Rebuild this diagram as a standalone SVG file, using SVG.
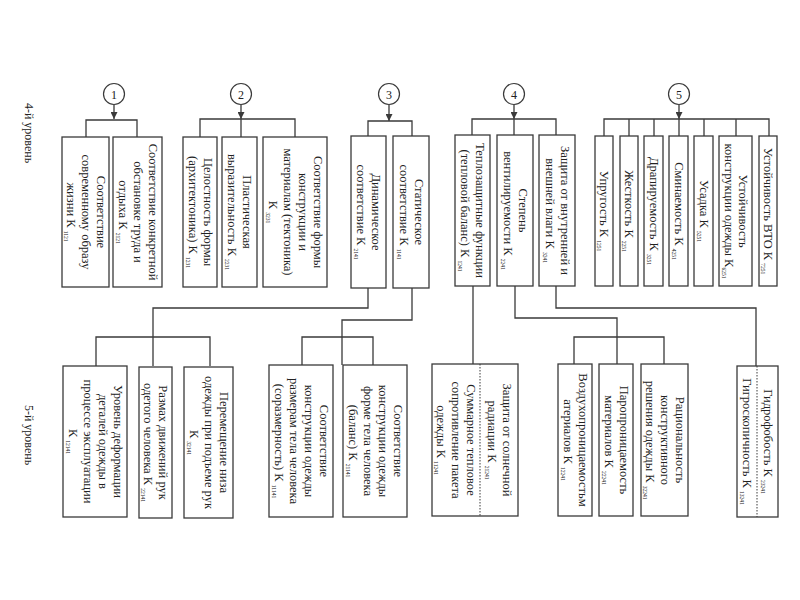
<svg xmlns="http://www.w3.org/2000/svg" width="800" height="600" viewBox="0 0 800 600">
<style>
.b{fill:#fff;stroke:#3a3a3a;stroke-width:1.3}
.c{fill:#fff;stroke:#3a3a3a;stroke-width:1.2}
.l{fill:none;stroke:#3a3a3a;stroke-width:1.3}
.d{fill:none;stroke:#3a3a3a;stroke-width:1;stroke-dasharray:1.5 1.5}
text{font-family:"Liberation Serif","Times New Roman",serif;font-size:12.5px;fill:#222;text-anchor:middle}
.s{font-size:5.5px}
.n{font-size:12px}
</style>
<defs>
<marker id="ar" viewBox="0 0 8 8" refX="8" refY="4" markerWidth="7" markerHeight="7" orient="auto" markerUnits="userSpaceOnUse">
<path d="M0,0 L8,4 L0,8 Z" fill="#3a3a3a"/>
</marker>
</defs>
<rect width="800" height="600" fill="#fff"/>

<text transform="translate(29,133) rotate(90)" y="4" class="n">4-й уровень</text>
<text transform="translate(29,435) rotate(90)" y="4" class="n">5-й уровень</text>

<g id="connectors">
<line class="l" x1="114" y1="105" x2="114" y2="119" marker-end="url(#ar)"/>
<path class="l" d="M86,137 V120 H137 V137"/>
<line class="l" x1="241" y1="105" x2="241" y2="119" marker-end="url(#ar)"/>
<path class="l" d="M200,137 V119 H295 V137 M241,119 V137"/>
<line class="l" x1="389" y1="105" x2="389" y2="121" marker-end="url(#ar)"/>
<path class="l" d="M368,136 V121 H412 V136"/>
<line class="l" x1="514" y1="105" x2="514" y2="119" marker-end="url(#ar)"/>
<path class="l" d="M472,135 V119 H556 V135 M514,119 V135"/>
<line class="l" x1="679" y1="105" x2="679" y2="119" marker-end="url(#ar)"/>
<path class="l" d="M604,136 V119 H769 V136 M629,119 V136 M654,119 V136 M679,119 V136 M704,119 V136 M736,119 V136"/>
<path class="l" d="M368,288 V308 H153 V337 M96,366 V337 H210 V366 M153,337 V366"/>
<path class="l" d="M412,288 V320 H342 V337 M302,365 V337 H373 V365 M342,337 V365"/>
<path class="l" d="M473,286 V364"/>
<path class="l" d="M515,286 V318 H617 V337 M574,364 V337 H664 V364 M617,337 V364"/>
<path class="l" d="M556,286 V308 H756 V366"/>
</g>

<g id="c1"><circle class="c" cx="114" cy="94" r="10.5"/><text x="114" y="98.5" class="n">1</text></g>
<g id="c2"><circle class="c" cx="241" cy="94" r="10.5"/><text x="241" y="98.5" class="n">2</text></g>
<g id="c3"><circle class="c" cx="389" cy="94" r="10.5"/><text x="389" y="98.5" class="n">3</text></g>
<g id="c4"><circle class="c" cx="514" cy="94" r="10.5"/><text x="514" y="98.5" class="n">4</text></g>
<g id="c5"><circle class="c" cx="679" cy="94" r="10.5"/><text x="679" y="98.5" class="n">5</text></g>

<!-- Level 4 group 1 -->
<g id="k1121"><rect class="b" x="62" y="137" width="47" height="150"/>
<text transform="translate(85.5,212) rotate(90)"><tspan x="0" y="-11">Соответствие</tspan><tspan x="0" y="4">современному образу</tspan><tspan x="0" y="19">жизни К <tspan class="s" dy="3">1121</tspan></tspan></text></g>
<g id="k2121"><rect class="b" x="113" y="137" width="49" height="150"/>
<text transform="translate(137.5,212) rotate(90)"><tspan x="0" y="-11">Соответствие конкретной</tspan><tspan x="0" y="4">обстановке труда и</tspan><tspan x="0" y="19">отдыха К <tspan class="s" dy="3">2121</tspan></tspan></text></g>

<!-- group 2 -->
<g id="k1231"><rect class="b" x="183" y="137" width="34" height="150"/>
<text transform="translate(200,212) rotate(90)"><tspan x="0" y="-3.5">Целостность формы</tspan><tspan x="0" y="11.5">(архитектоника) К <tspan class="s" dy="3">1231</tspan></tspan></text></g>
<g id="k2231"><rect class="b" x="222" y="137" width="35" height="150"/>
<text transform="translate(239.5,212) rotate(90)"><tspan x="0" y="-3.5">Пластическая</tspan><tspan x="0" y="11.5">выразительность К <tspan class="s" dy="3">2231</tspan></tspan></text></g>
<g id="k3231"><rect class="b" x="263" y="137" width="64" height="150"/>
<text transform="translate(295,212) rotate(90)"><tspan x="0" y="-18.5">Соответствие формы</tspan><tspan x="0" y="-3.5">конструкции и</tspan><tspan x="0" y="11.5">материалам (тектоника)</tspan><tspan x="0" y="26.5">К <tspan class="s" dy="3">3231</tspan></tspan></text></g>

<!-- group 3 -->
<g id="k2141"><rect class="b" x="351" y="136" width="35" height="152"/>
<text transform="translate(368.5,212) rotate(90)"><tspan x="0" y="-3.5">Динамическое</tspan><tspan x="0" y="11.5">соответствие К <tspan class="s" dy="3">2141</tspan></tspan></text></g>
<g id="k1141"><rect class="b" x="393" y="136" width="36" height="152"/>
<text transform="translate(411,212) rotate(90)"><tspan x="0" y="-3.5">Статическое</tspan><tspan x="0" y="11.5">соответствие К <tspan class="s" dy="3">1141</tspan></tspan></text></g>

<!-- group 4 -->
<g id="k1241"><rect class="b" x="455" y="135" width="35" height="151"/>
<text transform="translate(472.5,210.5) rotate(90)"><tspan x="0" y="-3.5">Теплозащитные функции</tspan><tspan x="0" y="11.5">(тепловой баланс) К <tspan class="s" dy="3">1241</tspan></tspan></text></g>
<g id="k2241"><rect class="b" x="497" y="135" width="36" height="151"/>
<text transform="translate(515,210.5) rotate(90)"><tspan x="0" y="-3.5">Степень</tspan><tspan x="0" y="11.5">вентилируемости К <tspan class="s" dy="3">2241</tspan></tspan></text></g>
<g id="k3241"><rect class="b" x="539" y="135" width="36" height="151"/>
<text transform="translate(557,210.5) rotate(90)"><tspan x="0" y="-3.5">Защита от внутренней и</tspan><tspan x="0" y="11.5">внешней влаги К <tspan class="s" dy="3">3241</tspan></tspan></text></g>

<!-- group 5 -->
<g id="k1251"><rect class="b" x="595" y="136" width="18" height="150"/>
<text transform="translate(604,211) rotate(90)"><tspan x="0" y="4">Упругость К <tspan class="s" dy="3">1251</tspan></tspan></text></g>
<g id="k2251"><rect class="b" x="620" y="136" width="18" height="150"/>
<text transform="translate(629,211) rotate(90)"><tspan x="0" y="4">Жесткость К <tspan class="s" dy="3">2251</tspan></tspan></text></g>
<g id="k3251"><rect class="b" x="644" y="136" width="19" height="150"/>
<text transform="translate(653.5,211) rotate(90)"><tspan x="0" y="4">Драпируемость К <tspan class="s" dy="3">3251</tspan></tspan></text></g>
<g id="k4251"><rect class="b" x="669" y="136" width="19" height="150"/>
<text transform="translate(678.5,211) rotate(90)"><tspan x="0" y="4">Сминаемость К <tspan class="s" dy="3">4251</tspan></tspan></text></g>
<g id="k5251"><rect class="b" x="694" y="136" width="19" height="150"/>
<text transform="translate(703.5,211) rotate(90)"><tspan x="0" y="4">Усадка К <tspan class="s" dy="3">5251</tspan></tspan></text></g>
<g id="k6251"><rect class="b" x="719" y="136" width="33" height="150"/>
<text transform="translate(735.5,211) rotate(90)"><tspan x="0" y="-3">Устойчивость</tspan><tspan x="0" y="11">конструкции одежды К<tspan class="s" dy="3">6251</tspan></tspan></text></g>
<g id="k7251"><rect class="b" x="759" y="136" width="18" height="150"/>
<text transform="translate(768,211) rotate(90)"><tspan x="0" y="4">Устойчивость ВТО К <tspan class="s" dy="3">7251</tspan></tspan></text></g>

<!-- Level 5 -->
<g id="k12141"><rect class="b" x="63" y="366" width="64" height="151"/>
<text transform="translate(95,441.5) rotate(90)"><tspan x="0" y="-18.5">Уровень деформации</tspan><tspan x="0" y="-3.5">деталей одежды в</tspan><tspan x="0" y="11.5">процессе эксплуатации</tspan><tspan x="0" y="26.5">К <tspan class="s" dy="3">12141</tspan></tspan></text></g>
<g id="k22141"><rect class="b" x="139" y="367" width="33" height="151"/>
<text transform="translate(155.5,442.5) rotate(90)"><tspan x="0" y="-3.5">Размах движений рук</tspan><tspan x="0" y="11.5">одетого человека К <tspan class="s" dy="3">22141</tspan></tspan></text></g>
<g id="k32141"><rect class="b" x="184" y="367" width="49" height="151"/>
<text transform="translate(208.5,442.5) rotate(90)"><tspan x="0" y="-11">Перемещение низа</tspan><tspan x="0" y="4">одежды при подъеме рук</tspan><tspan x="0" y="19">К <tspan class="s" dy="3">32141</tspan></tspan></text></g>
<g id="k11141"><rect class="b" x="269" y="365" width="64" height="152"/>
<text transform="translate(301,441) rotate(90)"><tspan x="0" y="-18.5">Соответствие</tspan><tspan x="0" y="-3.5">конструкции одежды</tspan><tspan x="0" y="11.5">размерам тела человека</tspan><tspan x="0" y="26.5">(соразмерность) К <tspan class="s" dy="3">11141</tspan></tspan></text></g>
<g id="k21141"><rect class="b" x="343" y="365" width="64" height="152"/>
<text transform="translate(375,441) rotate(90)"><tspan x="0" y="-18.5">Соответствие</tspan><tspan x="0" y="-3.5">конструкции одежды</tspan><tspan x="0" y="11.5">форме тела человека</tspan><tspan x="0" y="26.5">(баланс) К <tspan class="s" dy="3">21141</tspan></tspan></text></g>
<g id="k1241split"><rect class="b" x="432" y="364" width="86" height="152"/>
<line class="d" x1="480" y1="364" x2="480" y2="516"/>
<text transform="translate(499,440) rotate(90)"><tspan x="0" y="-3.5">Защита от солнечной</tspan><tspan x="0" y="11.5">радиации К <tspan class="s" dy="3">21241</tspan></tspan></text>
<text transform="translate(456,440) rotate(90)"><tspan x="0" y="-11">Суммарное тепловое</tspan><tspan x="0" y="4">сопротивление пакета</tspan><tspan x="0" y="19">одежды К <tspan class="s" dy="3">11241</tspan></tspan></text></g>
<g id="k12241"><rect class="b" x="558" y="364" width="34" height="152"/>
<text transform="translate(575,440) rotate(90)"><tspan x="0" y="-3.5">Воздухопроницаемостьм</tspan><tspan x="0" y="11.5">атериалов К <tspan class="s" dy="3">12241</tspan></tspan></text></g>
<g id="k22241"><rect class="b" x="599" y="364" width="34" height="152"/>
<text transform="translate(616,440) rotate(90)"><tspan x="0" y="-3.5">Паропроницаемость</tspan><tspan x="0" y="11.5">материалов К <tspan class="s" dy="3">22241</tspan></tspan></text></g>
<g id="k32241"><rect class="b" x="641" y="364" width="47" height="152"/>
<text transform="translate(664.5,440) rotate(90)"><tspan x="0" y="-11">Рациональность</tspan><tspan x="0" y="4">конструктивного</tspan><tspan x="0" y="19">решения одежды К <tspan class="s" dy="3">32241</tspan></tspan></text></g>
<g id="k3241split"><rect class="b" x="737" y="366" width="41" height="151"/>
<line class="d" x1="757" y1="366" x2="757" y2="517"/>
<text transform="translate(767.5,441.5) rotate(90)"><tspan x="0" y="4">Гидрофобость К <tspan class="s" dy="3">23241</tspan></tspan></text>
<text transform="translate(747,441.5) rotate(90)"><tspan x="0" y="4">Гигроскопичность К <tspan class="s" dy="3">13241</tspan></tspan></text></g>
</svg>
